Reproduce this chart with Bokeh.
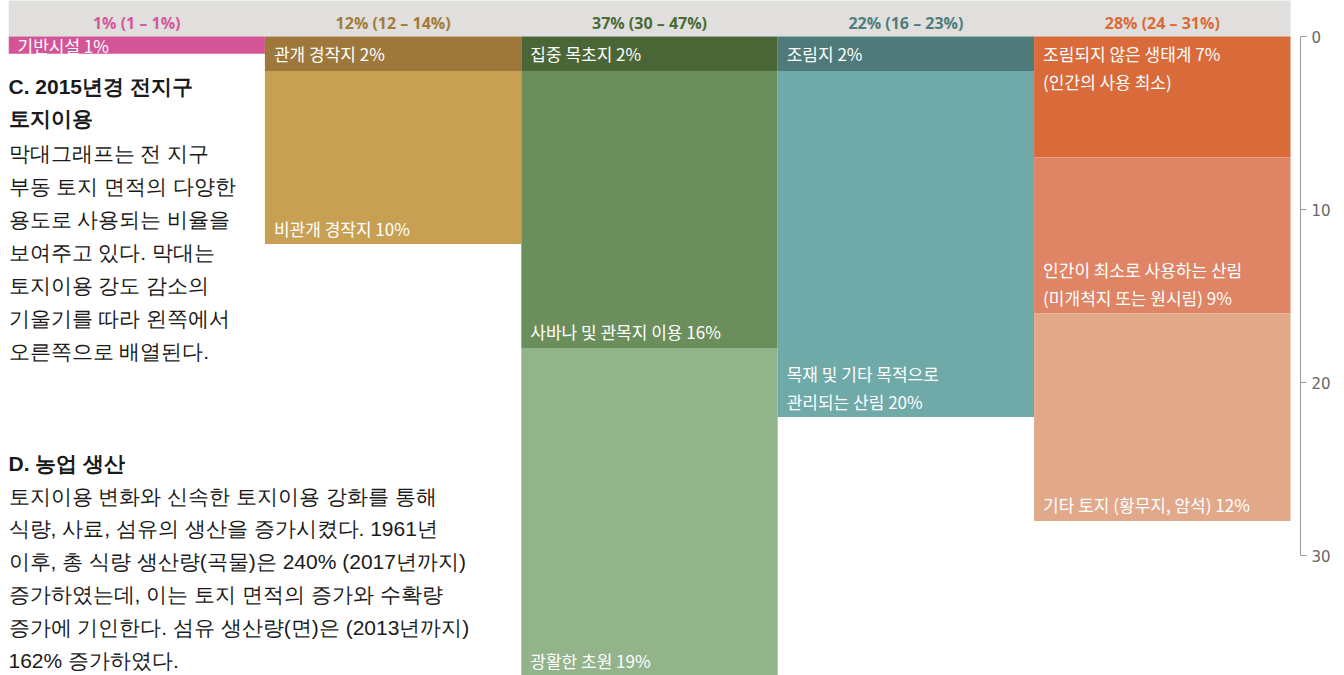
from bokeh.plotting import figure
from bokeh.models import ColumnDataSource, LinearAxis, FixedTicker, Range1d
from bokeh.core.properties import value
from bokeh.embed import file_html
from bokeh.resources import INLINE

# ---------------- data ----------------
header_labels = ["1% (1 – 1%)", "12% (12 – 14%)", "37% (30 – 47%)",
                 "22% (16 – 23%)", "28% (24 – 31%)"]
segment_column = [0, 1, 1, 2, 2, 2, 3, 3, 4, 4, 4]
segment_value = [1, 2, 10, 2, 16, 19, 2, 20, 7, 9, 12]
segment_label = [
    "기반시설 1%",
    "관개 경작지 2%",
    "비관개 경작지 10%",
    "집중 목초지 2%",
    "사바나 및 관목지 이용 16%",
    "광활한 초원 19%",
    "조림지 2%",
    "목재 및 기타 목적으로\n관리되는 산림 20%",
    "조림되지 않은 생태계 7%\n(인간의 사용 최소)",
    "인간이 최소로 사용하는 산림\n(미개척지 또는 원시림) 9%",
    "기타 토지 (황무지, 암석) 12%",
]
axis_ticks = [0, 10, 20, 30]

# ---------------- styles ----------------
header_colors = ["#d4579b", "#a37b3b", "#4b6b35", "#4e7e7b", "#dc6a38"]
segment_colors = ["#d35597", "#9d783a", "#c8a054", "#4a6636", "#6b8f5c",
                  "#93b38b", "#4e7b79", "#6faaa8", "#d96a3a", "#e08466",
                  "#e2a88a"]

c_title = ["C. 2015년경 전지구", "토지이용"]
c_body = ["막대그래프는 전 지구", "부동 토지 면적의 다양한", "용도로 사용되는 비율을",
          "보여주고 있다. 막대는", "토지이용 강도 감소의", "기울기를 따라 왼쪽에서",
          "오른쪽으로 배열된다."]
d_title = ["D. 농업 생산"]
d_body = ["토지이용 변화와 신속한 토지이용 강화를 통해",
          "식량, 사료, 섬유의 생산을 증가시켰다. 1961년",
          "이후, 총 식량 생산량(곡물)은 240% (2017년까지)",
          "증가하였는데, 이는 토지 면적의 증가와 수확량",
          "증가에 기인한다. 섬유 생산량(면)은 (2013년까지)",
          "162% 증가하였다."]

# ---------------- geometry ----------------
FRAME_H = 675
K = 17.3                      # px per unit
Y_TOP = -36 / K
Y_BOT = Y_TOP + FRAME_H / K


def py(y_px):
    return (y_px - 36) / K


starts, ends = [], []
acc = {}
for c, v in zip(segment_column, segment_value):
    s = acc.get(c, 0)
    starts.append(s)
    ends.append(s + v)
    acc[c] = s + v

bar_src = ColumnDataSource(dict(
    x=[c + 0.5 for c in segment_column],
    bottom=starts, top=ends, color=segment_colors))

lx, ly, lt = [], [], []
seen = set()
for c, s, e, lab in zip(segment_column, starts, ends, segment_label):
    lines = lab.split("\n")
    n = len(lines)
    first = c not in seen
    seen.add(c)
    for i, line in enumerate(lines):
        if first and (e - s) < 1.5:
            y = (s + e) / 2
        elif first:
            y = s + (17 + 28 * i) / K
        else:
            y = e - (16 + 28 * (n - 1 - i)) / K
        lx.append(c)
        ly.append(y)
        lt.append(line)
lab_src = ColumnDataSource(dict(x=lx, y=ly, text=lt))

ncol = len(header_labels)
p = figure(frame_width=1292, frame_height=FRAME_H,
           x_range=Range1d(0, ncol * 1292 / 1282), y_range=Range1d(Y_BOT, Y_TOP),
           x_axis_type=None, y_axis_type=None,
           toolbar_location=None, output_backend="svg", min_border=0,
           min_border_left=8,
           outline_line_color=None, background_fill_color="white",
           border_fill_color="white")

# header band
p.quad(left=[0], right=[ncol], top=[Y_TOP - 1], bottom=[0],
       fill_color="#e0dfdd", line_color=None)
p.text(x=[i + 0.5 for i in range(ncol)], y=[py(22)] * ncol, text=header_labels,
       text_color=header_colors, text_align="center", text_baseline="middle",
       text_font=value("Open Sans"), text_font_style="bold",
       text_font_size="16px")

# bars
p.vbar(x="x", width=1, bottom="bottom", top="top", fill_color="color",
       line_color=None, source=bar_src)
p.text(x="x", y="y", text="text", source=lab_src, x_offset=9,
       text_color="white", text_baseline="middle",
       text_font=value("Noto Sans CJK KR"), text_font_size="17px")

# left texts
def block(lines, ys, bold):
    p.text(x=[0] * len(lines), y=[py(v) for v in ys], text=lines, x_offset=0,
           text_color="#1a1a1a", text_baseline="middle",
           text_font=value("Liberation Sans"),
           text_font_style="bold" if bold else "normal", text_font_size="21px")

block(c_title, [86, 118], True)
block(c_body, [153, 186, 219, 252, 285, 318, 351], False)
block(d_title, [463], True)
block(d_body, [496, 528, 561, 594, 627, 660], False)

# right axis
ax = LinearAxis(bounds=(0, 30), ticker=FixedTicker(ticks=axis_ticks),
                axis_line_color="#9a9a9a", major_tick_line_color="#9a9a9a",
                major_tick_in=0, major_tick_out=6, minor_tick_line_color=None,
                major_label_text_color="#666666",
                major_label_text_font="DejaVu Sans",
                major_label_text_font_size="15px", major_label_standoff=5)
p.add_layout(ax, "right")

open("out.html", "w").write(file_html(p, INLINE))
